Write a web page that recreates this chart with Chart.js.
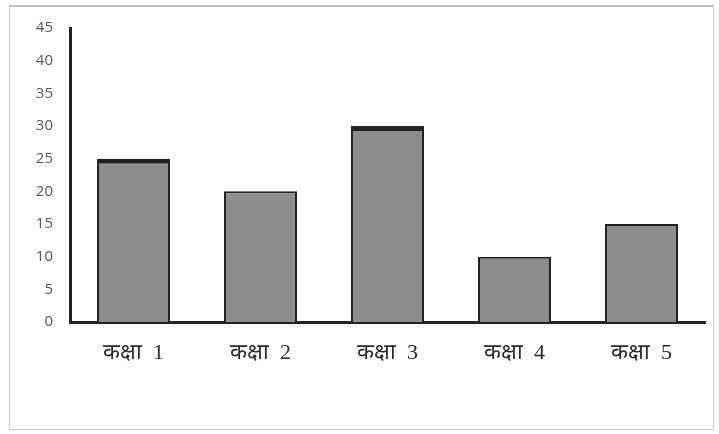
<!DOCTYPE html>
<html>
<head>
<meta charset="utf-8">
<script src="https://cdn.jsdelivr.net/npm/chart.js@4/dist/chart.umd.min.js"></script>
<style>
html,body{margin:0;padding:0;background:#fff;}
#wrap{position:relative;width:719px;height:434px;}
#frame{position:absolute;left:9px;top:5px;width:705px;height:425px;border:1px solid #c8c8c8;border-top:2px solid #c0c0c0;box-sizing:border-box;}
canvas{position:absolute;left:0;top:0;}
</style>
</head>
<body>
<div id="wrap">
<div id="frame"></div>
<canvas id="c" width="719" height="434"></canvas>
</div>
<script>
const categories = ["कक्षा 1", "कक्षा 2", "कक्षा 3", "कक्षा 4", "कक्षा 5"];
const values = [25, 20, 30, 10, 15];
const yTicks = [0, 5, 10, 15, 20, 25, 30, 35, 40, 45];
const thickTop = [true, false, true, false, false];

new Chart(document.getElementById('c'), {
  type: 'bar',
  data: {
    labels: categories,
    datasets: [{
      data: values,
      backgroundColor: '#8d8d8d',
      borderColor: '#222222',
      borderSkipped: 'bottom',
      borderWidth: ctx => thickTop[ctx.dataIndex]
        ? {top: 5, left: 2, right: 2, bottom: 0}
        : {top: 2, left: 2, right: 2, bottom: 0},
      categoryPercentage: 1,
      barPercentage: 0.575
    }]
  },
  options: {
    responsive: false,
    animation: false,
    devicePixelRatio: 1,
    layout: {padding: {left: 0, right: 14, top: 28, bottom: 0}},
    plugins: {legend: {display: false}, tooltip: {enabled: false}},
    scales: {
      x: {
        grid: {display: false, drawTicks: false},
        border: {display: true, color: '#222', width: 3},
        ticks: {
          padding: 18,
          color: '#2a2a2a',
          callback: function(v, i) { return categories[i].replace(' ', '  '); },
          font: {family: '"Liberation Serif", "Noto Serif", serif', size: 22}
        },
        afterFit: s => { s.height = 112; }
      },
      y: {
        min: 0, max: 45,
        afterBuildTicks: s => { s.ticks = yTicks.map(v => ({value: v})); },
        grid: {display: false, drawTicks: false},
        border: {display: true, color: '#222', width: 3},
        ticks: {
          padding: 17,
          color: '#555',
          font: {family: '"Open Sans", "DejaVu Sans", sans-serif', size: 15}
        },
        afterFit: s => { s.width = 70; }
      }
    }
  }
});
</script>
</body>
</html>
